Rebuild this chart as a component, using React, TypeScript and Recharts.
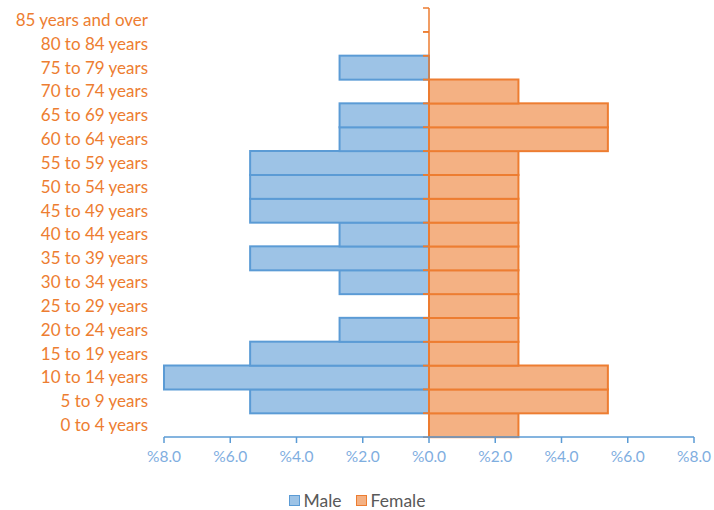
import React from 'react';
import { BarChart, Bar, XAxis, YAxis, Legend, ReferenceLine } from 'recharts';

// Age groups, listed from youngest to oldest
const ageGroups = [
  '0 to 4 years', '5 to 9 years', '10 to 14 years', '15 to 19 years',
  '20 to 24 years', '25 to 29 years', '30 to 34 years', '35 to 39 years',
  '40 to 44 years', '45 to 49 years', '50 to 54 years', '55 to 59 years',
  '60 to 64 years', '65 to 69 years', '70 to 74 years', '75 to 79 years',
  '80 to 84 years', '85 years and over',
];

// Share of the population in each age group (%)
const malePct = [0, 5.4, 8.0, 5.4, 2.7, 0, 2.7, 5.4, 2.7, 5.4, 5.4, 5.4, 2.7, 2.7, 0, 2.7, 0, 0];
const femalePct = [2.7, 5.4, 5.4, 2.7, 2.7, 2.7, 2.7, 2.7, 2.7, 2.7, 2.7, 2.7, 5.4, 5.4, 2.7, 0, 0, 0];

const axisTicks = [-8, -6, -4, -2, 0, 2, 4, 6, 8];

const MALE_FILL = '#9DC3E6';
const MALE_STROKE = '#5B9BD5';
const FEMALE_FILL = '#F4B183';
const FEMALE_STROKE = '#ED7D31';
const FONT = 'Lato, "Open Sans", sans-serif';

const data = ageGroups.map((group, i) => ({
  group,
  Male: -malePct[i],
  Female: femalePct[i],
}));

const formatPct = (v: number) => '%' + Math.abs(v).toFixed(1);

// Female bars start at zero, so their left edge also carries the category tick marks
const FemaleShape = (props: any) => {
  const { x, y, width, height } = props;
  return (
    <g>
      {width > 0 && (
        <rect x={x} y={y} width={width} height={height}
          fill={FEMALE_FILL} stroke={FEMALE_STROKE} strokeWidth={2} />
      )}
      <line x1={x - 6} x2={x} y1={y} y2={y} stroke={FEMALE_STROKE} strokeWidth={1.5} />
      <line x1={x - 6} x2={x} y1={y + height} y2={y + height} stroke={FEMALE_STROKE} strokeWidth={1.5} />
    </g>
  );
};

const MaleShape = (props: any) => {
  const { x, y, width, height } = props;
  if (!width) return <g />;
  const left = Math.min(x, x + width);
  return (
    <rect x={left} y={y} width={Math.abs(width)} height={height}
      fill={MALE_FILL} stroke={MALE_STROKE} strokeWidth={2} />
  );
};

const LegendContent = () => {
  const items = [
    { name: 'Male', fill: MALE_FILL, stroke: MALE_STROKE },
    { name: 'Female', fill: FEMALE_FILL, stroke: FEMALE_STROKE },
  ];
  return (
    <div style={{ height: 38, display: 'flex', justifyContent: 'center', alignItems: 'flex-end', fontFamily: FONT }}>
      {items.map((it) => (
        <div key={it.name} style={{ display: 'flex', alignItems: 'center', margin: '0 7px' }}>
          <span style={{ display: 'inline-block', width: 9, height: 9, background: it.fill, border: `1.5px solid ${it.stroke}`, marginRight: 4 }} />
          <span style={{ fontSize: 17.5, color: '#595959', lineHeight: '19px' }}>{it.name}</span>
        </div>
      ))}
    </div>
  );
};

export default function App() {
  return (
    <div style={{ position: 'absolute', left: 0, top: 0, background: '#fff' }}>
      <BarChart
        width={714}
        height={510}
        data={data}
        layout="vertical"
        stackOffset="sign"
        barCategoryGap={0}
        margin={{ top: 8, right: 20, left: 1, bottom: 0 }}
        style={{ fontFamily: FONT }}
      >
        <XAxis
          type="number"
          domain={[-8, 8]}
          ticks={axisTicks}
          interval={0}
          tickFormatter={formatPct}
          height={35}
          tickSize={6}
          tickMargin={8}
          axisLine={{ stroke: MALE_STROKE, strokeWidth: 1.5 }}
          tickLine={{ stroke: MALE_STROKE, strokeWidth: 1.5 }}
          tick={{ fill: '#7FAEDF', fontSize: 15.5 }}
        />
        <YAxis
          type="category"
          dataKey="group"
          reversed
          width={163}
          axisLine={false}
          tickLine={false}
          tickSize={0}
          tickMargin={16}
          interval={0}
          tick={{ fill: '#ED7D31', fontSize: 17 }}
        />
        <Bar dataKey="Male" stackId="pop" shape={MaleShape} isAnimationActive={false} />
        <Bar dataKey="Female" stackId="pop" shape={FemaleShape} isAnimationActive={false} />
        <ReferenceLine x={0} stroke={FEMALE_STROKE} strokeWidth={1.5} />
        <Legend verticalAlign="bottom" content={<LegendContent />} wrapperStyle={{ left: 0, width: 714, height: 38 }} />
      </BarChart>
    </div>
  );
}
